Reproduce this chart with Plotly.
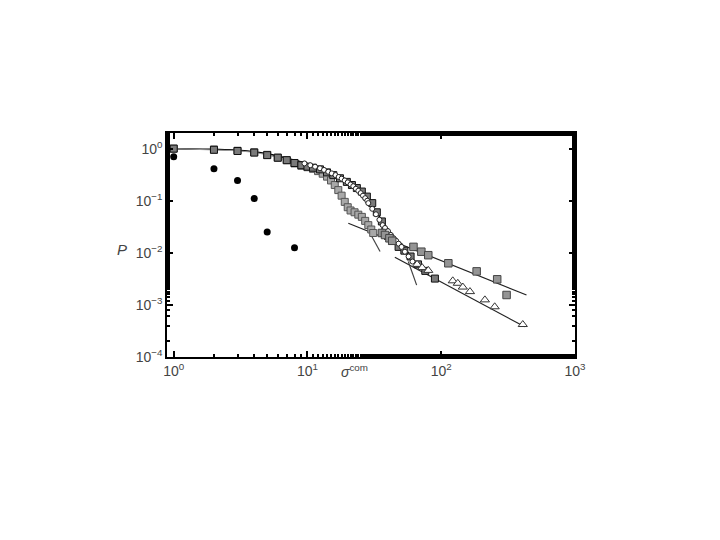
import plotly.graph_objects as go

# filled black circles
dot_x = [1, 2, 3, 4, 5, 8]
dot_y = [0.7, 0.41, 0.245, 0.11, 0.025, 0.0125]

# light grey squares, steep drop
sqa_x = [1, 2, 3, 4, 5, 6, 7, 8, 9, 10, 11, 12, 13, 14, 15, 16, 17, 18, 19, 20,
         21, 22.5, 24, 25.5, 27, 28.5, 30, 31]
sqa_y = [1.0, 0.96, 0.91, 0.85, 0.76, 0.67, 0.6, 0.52, 0.47, 0.44, 0.41, 0.37, 0.33, 0.29, 0.245,
         0.2, 0.16, 0.125, 0.095, 0.075, 0.065, 0.06, 0.054, 0.049, 0.041, 0.034, 0.028, 0.024]

# dark squares following the open circles
sqb_x = [1, 2, 3, 4, 5, 6, 7, 8, 9, 10, 11, 12.4, 14, 15.6, 17.5, 19.7, 21.5, 23.4, 25.5,
         27.8, 30.5, 33, 36, 38, 40, 43, 48, 53, 59, 67, 76, 89.7]
sqb_y = [1.0, 0.95, 0.9, 0.84, 0.75, 0.67, 0.6, 0.53, 0.48, 0.45, 0.43, 0.4, 0.35, 0.31, 0.27,
         0.23, 0.2, 0.175, 0.15, 0.12, 0.09, 0.06, 0.04, 0.025, 0.021, 0.017, 0.013, 0.011, 0.0085,
         0.006, 0.0045, 0.0032]

# mid grey squares, long tail
sqc_x = [36, 38, 41, 43, 62, 71, 80, 113, 184, 262, 308]
sqc_y = [0.024, 0.022, 0.019, 0.017, 0.013, 0.0105, 0.009, 0.0063, 0.0044, 0.0031, 0.00155]

# open circles
circ_x = [9.5, 10.5, 11.4, 12.4, 13.3, 14.3, 15.2, 16.2, 17.1, 18, 19, 20, 21, 22, 23, 24, 25,
          26, 27, 28, 28.5, 30.5, 32.5, 34.5, 36.5, 38, 40, 42, 44, 46, 48, 50.5, 53.5, 57, 61]
circ_y = [0.52, 0.48, 0.45, 0.42, 0.39, 0.36, 0.335, 0.31, 0.285, 0.265, 0.245, 0.225, 0.205, 0.19,
          0.17, 0.155, 0.14, 0.125, 0.112, 0.1, 0.09, 0.07, 0.055, 0.043, 0.034, 0.03, 0.026, 0.022,
          0.019, 0.017, 0.015, 0.013, 0.0105, 0.0085, 0.0068]

# open triangles
tri_x = [66, 72, 80, 122, 133, 145, 164, 212, 251, 407]
tri_y = [0.006, 0.0052, 0.0046, 0.0029, 0.0026, 0.0022, 0.0018, 0.00125, 0.00092, 0.00042]

# fitted lines
fit_curve_x = [1, 2, 3, 5, 8, 10, 15, 20, 25, 30, 35, 40, 45, 50, 55, 60]
fit_curve_y = [1.0, 0.97, 0.93, 0.8, 0.6, 0.52, 0.36, 0.245, 0.155, 0.085, 0.047, 0.028, 0.02, 0.0145, 0.011, 0.0082]
fit_sq_x = [20.2, 434]
fit_sq_y = [0.037, 0.00155]
fit_tri_x = [45, 421]
fit_tri_y = [0.0082, 0.00038]
cut1_x = [30.3, 34.9]
cut1_y = [0.0205, 0.0106]
cut2_x = [56.7, 65.5]
cut2_y = [0.0068, 0.0024]

fig = go.Figure()

fig.add_trace(go.Scatter(x=fit_curve_x, y=fit_curve_y, mode='lines',
                         line=dict(color='black', width=1.5, shape='spline')))
fig.add_trace(go.Scatter(x=fit_sq_x, y=fit_sq_y, mode='lines', line=dict(color='#222', width=1.2)))
fig.add_trace(go.Scatter(x=fit_tri_x, y=fit_tri_y, mode='lines', line=dict(color='#222', width=1.2)))
fig.add_trace(go.Scatter(x=cut1_x, y=cut1_y, mode='lines', line=dict(color='#444', width=1.2)))
fig.add_trace(go.Scatter(x=cut2_x, y=cut2_y, mode='lines', line=dict(color='#444', width=1.2)))

fig.add_trace(go.Scatter(x=sqa_x, y=sqa_y, mode='lines+markers',
                         line=dict(color='#999', width=1),
                         marker=dict(symbol='square', size=7, color='#a8a8a8',
                                     line=dict(color='#555', width=1))))
fig.add_trace(go.Scatter(x=sqb_x, y=sqb_y, mode='markers',
                         marker=dict(symbol='square', size=7, color='#7a7a7a',
                                     line=dict(color='#111', width=1))))
fig.add_trace(go.Scatter(x=circ_x, y=circ_y, mode='markers',
                         marker=dict(symbol='circle', size=5, color='white',
                                     line=dict(color='#222', width=1))))
fig.add_trace(go.Scatter(x=sqc_x, y=sqc_y, mode='markers',
                         marker=dict(symbol='square', size=7.5, color='#949494',
                                     line=dict(color='#444', width=1))))
fig.add_trace(go.Scatter(x=tri_x, y=tri_y, mode='markers',
                         marker=dict(symbol='triangle-up', size=8, color='white',
                                     line=dict(color='#333', width=1))))
fig.add_trace(go.Scatter(x=dot_x, y=dot_y, mode='markers',
                         marker=dict(symbol='circle', size=7, color='black')))

x_tickvals = [1, 10, 100, 1000]
x_ticktext = ['10<sup>0</sup>', '10<sup>1</sup>', '10<sup>2</sup>', '10<sup>3</sup>']
y_tickvals = [1, 0.1, 0.01, 0.001, 0.0001]
y_ticktext = ['10<sup>0</sup>', '10<sup>\u22121</sup>', '10<sup>\u22122</sup>',
              '10<sup>\u22123</sup>', '10<sup>\u22124</sup>']

axis_style = dict(type='log', showgrid=False, zeroline=False, showline=True,
                  linecolor='black', linewidth=1.5, mirror='allticks',
                  ticks='inside', ticklen=6, tickcolor='black', tickwidth=1.5,
                  tickfont=dict(family='Liberation Sans, Arial', size=14, color='#444'),
                  minor=dict(ticks='inside', ticklen=3, tickcolor='black', showgrid=False))

fig.update_layout(
    width=720, height=540,
    paper_bgcolor='white', plot_bgcolor='white',
    showlegend=False,
    margin=dict(l=159, r=153, t=125, b=191),
    xaxis=dict(range=[-0.05, 3], tickvals=x_tickvals, ticktext=x_ticktext, **axis_style),
    yaxis=dict(range=[-4, 0.3], tickvals=y_tickvals, ticktext=y_ticktext, **axis_style),
    annotations=[
        dict(text='<i>P</i>', xref='paper', yref='paper', x=-0.127, y=0.478,
             showarrow=False, font=dict(family='Liberation Sans, Arial', size=15, color='#444')),
        dict(text='<i>\u03c3</i><sup>com</sup>', xref='paper', yref='paper', x=0.46, y=-0.11,
             showarrow=False, font=dict(family='Liberation Sans, Arial', size=14, color='#444')),
    ],
)

fig.write_html("out.html")
